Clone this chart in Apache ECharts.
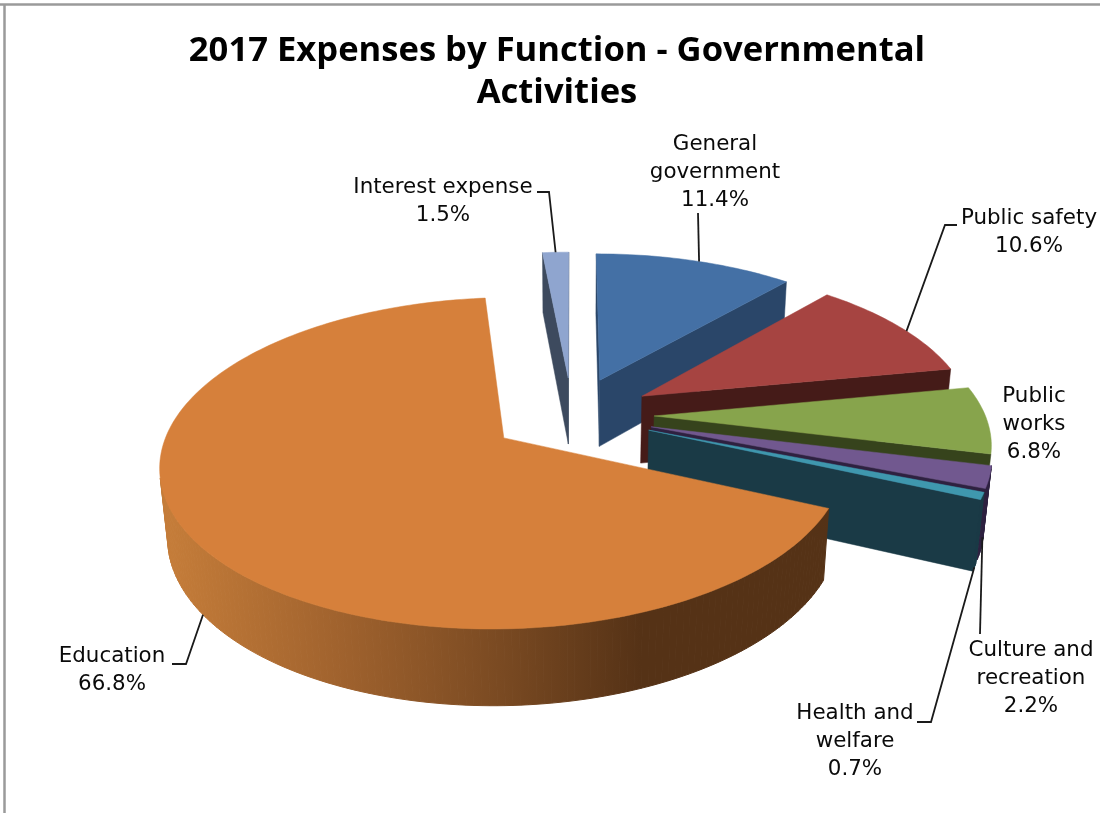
<!DOCTYPE html>
<html><head><meta charset="utf-8">
<style>html,body{margin:0;padding:0;background:#fff}#c{width:1100px;height:813px}</style>
<script src="https://cdn.jsdelivr.net/npm/echarts@6/dist/echarts.min.js"></script>
</head><body><div id="c"></div>
<script>
const titleText = "2017 Expenses by Function - Governmental\nActivities";
const categories = ["General\ngovernment","Public safety","Public\nworks","Culture and\nrecreation","Health and\nwelfare","Education","Interest expense"];
const values = [11.4,10.6,6.8,2.2,0.7,66.8,1.5];
const topColors = ["#4470a5","#a64441","#87a44c","#71588f","#3f97ae","#d6803b","#8fa5cf"];
const sideColors = ["#2a4669","#451b18","#36431c","#2e2140","#1a3a46","#583315","#3d4a5e"];
// Label layout: text centre x, text top y, leader anchor (share along the arc, height on the wall), leader elbows
const labelLayout = [
  {x:715,y:130,along:0.52,wall:0,elbows:[[698,213]]},
  {x:1029,y:204,along:0.555,wall:0,elbows:[[945,225],[957,225]]},
  {x:1034,y:382,along:0.5,wall:0,elbows:null},
  {x:1031,y:636,along:0.5,wall:0.85,elbows:[[980,634]]},
  {x:855,y:699,along:0.5,wall:1,elbows:[[931,722],[917,722]]},
  {x:112,y:642,along:0.5,wall:1,elbows:[[186,664],[172,664]]},
  {x:443,y:173,along:0.5,wall:0,elbows:[[549,192],[537,192]]}
];
// Camera and pie geometry
const pie = {cx:572,cy:415,R:331,sinPhi:0.468,D:5.9,height:0.236,explode:0.248};
const cosPhi = Math.sqrt(1-pie.sinPhi*pie.sinPhi);
const labelFont = '21.4px "DejaVu Sans"';

const total = values.reduce((a,b)=>a+b,0);
function project(x,y,z){
  const up = y*pie.sinPhi + z*cosPhi;
  const s = pie.D/(pie.D + y*cosPhi - z*pie.sinPhi);
  return [pie.cx + pie.R*x*s, pie.cy - pie.R*up*s];
}
function sliceAngles(start,val){
  const a0 = start/total*2*Math.PI, a1 = (start+val)/total*2*Math.PI;
  return {a0,a1,mid:(a0+a1)/2};
}
function centerOf(mid){ return [pie.explode*Math.sin(mid), pie.explode*Math.cos(mid)]; }
function rimPoint(c,a,z){ return project(c[0]+Math.sin(a), c[1]+Math.cos(a), z); }
function signedArea(pts){
  let s=0;
  pts.forEach((p,k)=>{const q=pts[(k+1)%pts.length]; s+=p[0]*q[1]-q[0]*p[1];});
  return s;
}

let cum = 0;
const rows = values.map((v,i)=>{ const r=[i,v,cum]; cum+=v; return r; });
const drawRows = rows.slice().sort((p,q)=>{
  return Math.cos(sliceAngles(q[2],q[1]).mid)<Math.cos(sliceAngles(p[2],p[1]).mid)?-1:1;
});

const eduSide = new echarts.graphic.LinearGradient(172,0,640,0,[
  {offset:0,color:"#c47c39"},{offset:0.35,color:"#a1632e"},{offset:0.7,color:"#7a4a22"},{offset:1,color:"#553216"}
],true);

function renderSlice(params,api){
  const i=api.value(0), v=api.value(1), st=api.value(2);
  const {a0,a1,mid}=sliceAngles(st,v);
  const c=centerOf(mid), h=-pie.height;
  const n=Math.max(4,Math.ceil((a1-a0)/0.02));
  const arcTop=[],arcBot=[];
  for(let k=0;k<=n;k++){
    const a=a0+(a1-a0)*k/n;
    arcTop.push(rimPoint(c,a,0)); arcBot.push(rimPoint(c,a,h));
  }
  const apexT=project(c[0],c[1],0), apexB=project(c[0],c[1],h);
  const side=sideColors[i];
  const sideStyle={fill:side,stroke:side,lineWidth:0.5};
  const wallStyle=i===5?{fill:eduSide,stroke:eduSide,lineWidth:1}:{fill:side,stroke:side,lineWidth:1};
  const poly=(pts,style)=>({type:'polygon',shape:{points:pts},style});
  const kids=[];
  const startWall=[apexT,arcTop[0],arcBot[0],apexB], endWall=[apexT,arcTop[n],arcBot[n],apexB];
  if(signedArea(startWall)<0) kids.push(poly(startWall,sideStyle));
  if(signedArea(endWall)>0) kids.push(poly(endWall,sideStyle));
  for(let k=0;k<n;k++){
    const quad=[arcTop[k],arcTop[k+1],arcBot[k+1],arcBot[k]];
    if(signedArea(quad)<0) kids.push(poly(quad,wallStyle));
  }
  kids.push(poly([apexT].concat(arcTop),{fill:topColors[i],stroke:topColors[i],lineWidth:0.5}));
  return {type:'group',children:kids};
}
function renderLabel(params,api){
  const i=api.value(0), v=api.value(1), st=api.value(2);
  const L=labelLayout[i];
  const {a0,a1,mid}=sliceAngles(st,v);
  const kids=[];
  if(L.elbows){
    const anchor=rimPoint(centerOf(mid),a0+(a1-a0)*L.along,-pie.height*L.wall);
    kids.push({type:'polyline',shape:{points:[anchor].concat(L.elbows)},style:{stroke:'#1a1a1a',lineWidth:1.8,fill:null}});
  }
  kids.push({type:'text',style:{text:categories[i]+"\n"+v.toFixed(1)+"%",x:L.x,y:L.y,align:'center',verticalAlign:'top',lineHeight:28,font:labelFont,fill:'#0a0a0a'}});
  return {type:'group',children:kids};
}

const chart=echarts.init(document.getElementById('c'),null,{renderer:'canvas'});
chart.setOption({
  backgroundColor:'#fff',
  animation:false,
  title:{text:titleText,left:552,top:25,textAlign:'center',
    textStyle:{fontFamily:'"Open Sans"',fontWeight:'bold',fontSize:34.6,lineHeight:42,color:'#000'}},
  graphic:[
    {type:'line',shape:{x1:0,y1:4.5,x2:1100,y2:4.5},style:{stroke:'#9a9a9a',lineWidth:2.5}},
    {type:'line',shape:{x1:4.5,y1:4,x2:4.5,y2:813},style:{stroke:'#9a9a9a',lineWidth:2.5}}
  ],
  series:[
    {type:'custom',coordinateSystem:'none',silent:true,z:2,renderItem:renderSlice,data:drawRows},
    {type:'custom',coordinateSystem:'none',silent:true,z:3,renderItem:renderLabel,data:rows}
  ]
});
</script></body></html>
